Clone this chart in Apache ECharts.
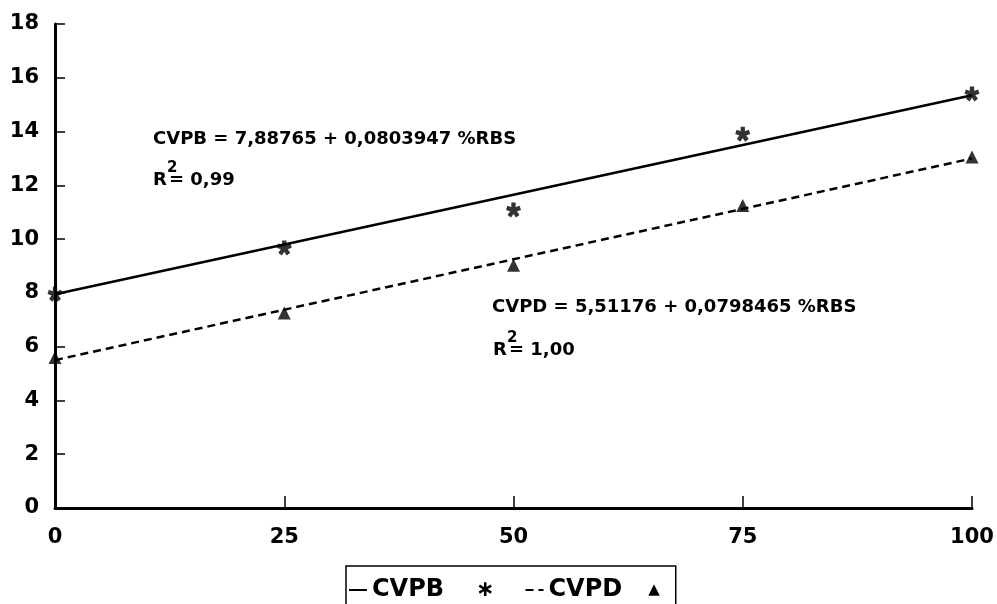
<!DOCTYPE html>
<html>
<head>
<meta charset="utf-8">
<script src="https://cdn.jsdelivr.net/npm/echarts@6/dist/echarts.min.js"></script>
<style>
  html, body { margin: 0; padding: 0; background: #fff; }
  #chart { width: 997px; height: 604px; }
</style>
</head>
<body>
<div id="chart"></div>
<script>
// %RBS levels and observed values
const pctRBS = [0, 25, 50, 75, 100];
const cvpb = [7.95, 9.67, 11.08, 13.9, 15.4];
const cvpd = [5.6, 7.25, 9.03, 11.25, 13.05];

// fitted lines, read at both ends of the axis
const fitX = [0, 100];
const fitB = [7.95, 15.35];
const fitD = [5.5, 13.0];

const eqB = 'CVPB = 7,88765 + 0,0803947 %RBS';
const r2B = '= 0,99';
const eqD = 'CVPD = 5,51176 + 0,0798465 %RBS';
const r2D = '= 1,00';

const FONT = '"DejaVu Sans", "Liberation Sans", sans-serif';

// five armed asterisk for the CVPB points
function asteriskPath() {
    let d = '';
    const w = 0.3;
    for (let k = 0; k < 5; k++) {
        const a = (-90 + k * 72) * Math.PI / 180;
        const dx = Math.cos(a), dy = Math.sin(a);
        const px = -dy * w, py = dx * w;
        const p = [
            [px, py], [dx + px, dy + py], [dx - px, dy - py], [-px, -py]
        ].map(q => ((q[0] + 1) * 10).toFixed(2) + ' ' + ((q[1] + 1) * 10).toFixed(2));
        d += 'M' + p[0] + ' L' + p[1] + ' L' + p[2] + ' L' + p[3] + ' Z ';
    }
    return 'path://' + d;
}

const pairs = (xs, ys) => xs.map((x, i) => [x, ys[i]]);

// "R" with a raised "2" then the value
function r2Label(x, y, rest) {
    return {
        type: 'group', left: x, top: y - 10,
        children: [
            { type: 'text', x: 0, y: 10, style: { text: 'R', font: 'bold 18px ' + FONT, fill: '#000' } },
            { type: 'text', x: 14, y: 0, style: { text: '2', font: 'bold 15px ' + FONT, fill: '#000' } },
            { type: 'text', x: 16, y: 10, style: { text: rest, font: 'bold 18px ' + FONT, fill: '#000' } }
        ]
    };
}

const chart = echarts.init(document.getElementById('chart'));
chart.setOption({
    animation: false,
    backgroundColor: '#fff',
    grid: { left: 55, right: 25, top: 24, bottom: 96 },
    xAxis: {
        type: 'value',
        min: 0, max: 100, interval: 25,
        splitLine: { show: false },
        axisLine: { lineStyle: { color: '#000', width: 3 } },
        axisTick: { inside: true, length: 12, lineStyle: { color: '#000', width: 1.5 } },
        axisLabel: { color: '#000', fontFamily: FONT, fontWeight: 'bold', fontSize: 21, margin: 19 }
    },
    yAxis: {
        type: 'value',
        min: 0, max: 18, interval: 2,
        splitLine: { show: false },
        axisLine: { show: true, lineStyle: { color: '#000', width: 3 } },
        axisTick: { show: true, inside: true, length: 10, lineStyle: { color: '#000', width: 1.5 } },
        axisLabel: { color: '#000', fontFamily: FONT, fontWeight: 'bold', fontSize: 21, margin: 16 }
    },
    legend: {
        data: ['CVPB', 'CVPD'],
        left: 346, top: 566,
        orient: 'horizontal',
        itemWidth: 18, itemHeight: 10, itemGap: 30,
        padding: [12, 16, 20, 2],
        borderColor: '#000', borderWidth: 1.5,
        itemStyle: { opacity: 0 },
        formatter: name => name === 'CVPB' ? name + '{s|∗}' : name + '{t|▲}',
        textStyle: {
            color: '#000', fontFamily: FONT, fontWeight: 'bold', fontSize: 24,
            rich: {
                s: { fontFamily: FONT, fontSize: 22, fontWeight: 'bold', color: '#000', padding: [0, 0, 0, 32] },
                t: { fontFamily: FONT, fontSize: 15, fontWeight: 'bold', color: '#000', padding: [0, 0, 0, 26] }
            }
        }
    },
    series: [
        {
            name: 'CVPB', type: 'line', data: pairs(fitX, fitB),
            symbol: 'none', lineStyle: { color: '#000', width: 2.5 }, itemStyle: { color: '#000' }
        },
        {
            name: 'CVPD', type: 'line', data: pairs(fitX, fitD),
            symbol: 'none', lineStyle: { color: '#000', width: 2.5, type: [8, 5] }, itemStyle: { color: '#000' }
        },
        {
            name: 'CVPB obs', type: 'scatter', data: pairs(pctRBS, cvpb),
            symbol: asteriskPath(), symbolSize: 15, itemStyle: { color: '#000' }
        },
        {
            name: 'CVPD obs', type: 'scatter', data: pairs(pctRBS, cvpd),
            symbol: 'triangle', symbolSize: 13, itemStyle: { color: '#000' }
        }
    ],
    graphic: [
        { type: 'text', left: 153, top: 130, style: { text: eqB, font: 'bold 18px ' + FONT, fill: '#000' } },
        r2Label(153, 171, r2B),
        { type: 'text', left: 492, top: 298, style: { text: eqD, font: 'bold 18px ' + FONT, fill: '#000' } },
        r2Label(493, 341, r2D)
    ]
});
</script>
</body>
</html>
